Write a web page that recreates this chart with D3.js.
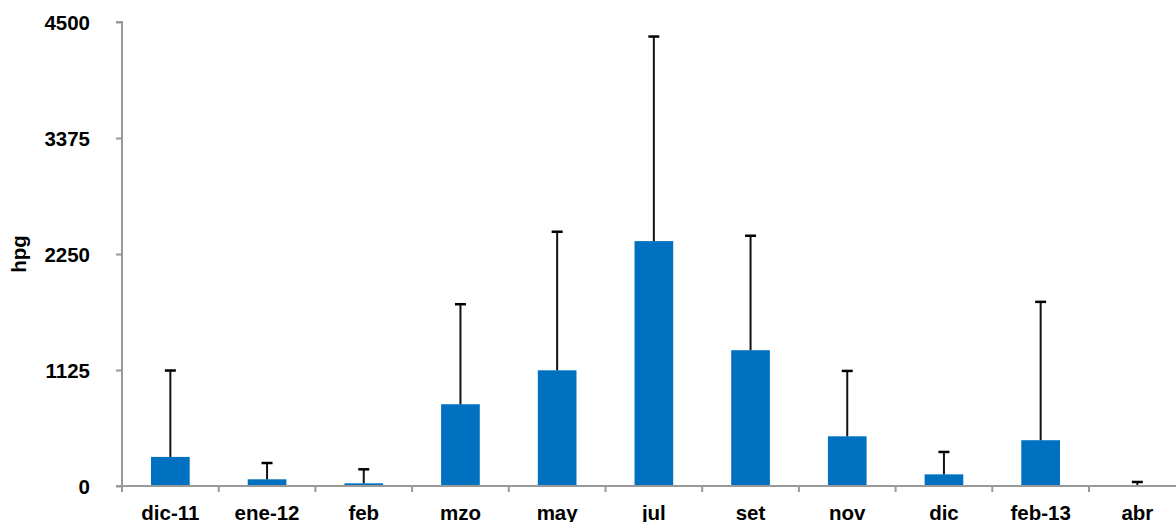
<!DOCTYPE html>
<html>
<head>
<meta charset="utf-8">
<script src="https://cdn.jsdelivr.net/npm/d3@7"></script>
<style>
  html, body { margin: 0; padding: 0; background: #fff; }
  #chart { width: 1176px; height: 522px; }
  text { font-family: "Liberation Sans", Arial, sans-serif; font-weight: bold; fill: #000; }
</style>
</head>
<body>
<div id="chart"></div>
<script>
// data
const months    = ["dic-11", "ene-12", "feb", "mzo", "may", "jul", "set", "nov", "dic", "feb-13", "abr"];
const means     = [282, 65, 26, 793, 1122, 2375, 1317, 482, 113, 444, 4];
const errTops   = [1120, 223, 162, 1763, 2466, 4359, 2427, 1116, 330, 1786, 39];
const yTicks    = [0, 1125, 2250, 3375, 4500];
const yLabel    = "hpg";

const width = 1176, height = 522;
const margin = { top: 22, left: 122, bottom: 36 };
const step = 96.7;

const svg = d3.select("#chart").append("svg")
  .attr("width", width)
  .attr("height", height);

const y = d3.scaleLinear()
  .domain([0, 4500])
  .range([height - margin.bottom, margin.top]);

const x = d3.scaleBand()
  .domain(months)
  .range([margin.left, margin.left + step * months.length])
  .paddingInner(0.6)
  .paddingOuter(0.3);

const y0 = y(0);

// bars
svg.append("g").selectAll("rect")
  .data(months)
  .join("rect")
  .attr("x", d => x(d))
  .attr("y", (d, i) => y(means[i]))
  .attr("width", x.bandwidth())
  .attr("height", (d, i) => y0 - y(means[i]))
  .attr("fill", "#0070C0");

// error bars (upper only)
const eb = svg.append("g").attr("stroke", "#111").attr("stroke-width", 2);
months.forEach((m, i) => {
  const cx = x(m) + x.bandwidth() / 2;
  eb.append("line")
    .attr("x1", cx).attr("x2", cx)
    .attr("y1", y(means[i])).attr("y2", y(errTops[i]));
  eb.append("line")
    .attr("x1", cx - 5.5).attr("x2", cx + 5.5)
    .attr("y1", y(errTops[i])).attr("y2", y(errTops[i]))
    .attr("stroke", "#000").attr("stroke-width", 2.5);
});

// y axis
const yAxis = svg.append("g")
  .attr("transform", `translate(${margin.left},0)`)
  .call(d3.axisLeft(y).tickValues(yTicks).tickSize(6).tickPadding(26).tickFormat(d3.format("d")));
yAxis.select(".domain").attr("stroke", "#999").attr("stroke-width", 2).attr("d", `M-6,${y(4500)}H0V${y0}`);
yAxis.selectAll(".tick line").attr("stroke", "#999").attr("stroke-width", 2);
yAxis.selectAll(".tick text").style("font-size", "20.5px").attr("dy", "0.36em");

// x axis line
svg.append("line")
  .attr("x1", margin.left - 6).attr("x2", width)
  .attr("y1", y0).attr("y2", y0)
  .attr("stroke", "#999").attr("stroke-width", 2);

// x boundary ticks
const bounds = months.map(m => x(m) + x.bandwidth() / 2 - x.step() / 2);
svg.append("g").selectAll("line")
  .data(bounds)
  .join("line")
  .attr("x1", d => d).attr("x2", d => d)
  .attr("y1", y0).attr("y2", y0 + 6)
  .attr("stroke", "#999").attr("stroke-width", 2);

// x labels
svg.append("g").selectAll("text")
  .data(months)
  .join("text")
  .attr("x", d => x(d) + x.bandwidth() / 2)
  .attr("y", y0 + 33.5)
  .attr("text-anchor", "middle")
  .style("font-size", "20.5px")
  .text(d => d);

// y label
svg.append("text")
  .attr("transform", `translate(26,${(y(4500) + y0) / 2}) rotate(-90)`)
  .attr("text-anchor", "middle")
  .style("font-size", "20.5px")
  .text(yLabel);
</script>
</body>
</html>
